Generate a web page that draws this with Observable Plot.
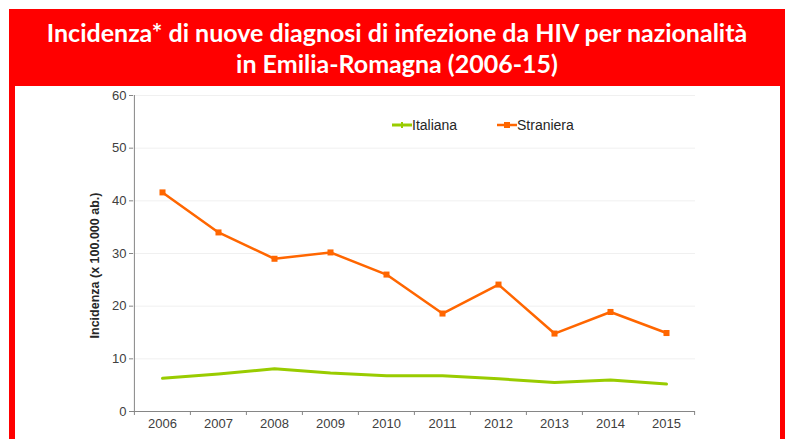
<!DOCTYPE html>
<html>
<head>
<meta charset="utf-8">
<script src="https://cdn.jsdelivr.net/npm/d3@7"></script>
<script src="https://cdn.jsdelivr.net/npm/@observablehq/plot@0.6"></script>
<style>
  html, body { margin: 0; padding: 0; background: #fff; }
  #page { position: relative; width: 790px; height: 439px; overflow: hidden; background: #fff; }
  #frame { position: absolute; left: 9px; top: 9px; width: 776px; height: 430px; background: #ff0000; }
  #title { position: absolute; left: 0; top: 0; width: 776px; height: 77px; color: #fff;
           font-family: Lato, "Open Sans", sans-serif; font-weight: 700; text-align: center; }
  #title div { position: absolute; left: 0; width: 100%; white-space: nowrap; line-height: 1; }
  #inner { position: absolute; left: 6px; top: 77px; width: 765px; height: 353px; background: #fff; }
  #inner > svg { position: absolute; left: 0; top: 0; }
  #legend { position: absolute; top: 30px; left: 0; width: 100%; height: 20px;
            font-family: "Liberation Sans", Arial, sans-serif; font-size: 14px; color: #262626; }
  #legend .item { position: absolute; top: 0; display: flex; align-items: center; height: 18px; }
  #legend .item svg { position: static; display: block; }
</style>
</head>
<body>
<div id="page">
  <div id="frame">
    <div id="title">
      <div id="t1"></div>
      <div id="t2"></div>
    </div>
    <div id="inner">
      <div id="legend"></div>
    </div>
  </div>
</div>
<script>
const titleLines = ["Incidenza* di nuove diagnosi di infezione da HIV per nazionalità", "in Emilia-Romagna (2006-15)"];
const yTitle = "Incidenza (x 100.000 ab.)";
const seriesNames = ["Italiana", "Straniera"];
const years = ["2006", "2007", "2008", "2009", "2010", "2011", "2012", "2013", "2014", "2015"];
const italiana = [6.3, 7.1, 8.1, 7.3, 6.8, 6.8, 6.2, 5.5, 6.0, 5.2];
const straniera = [41.6, 34.0, 29.0, 30.2, 26.0, 18.6, 24.1, 14.8, 18.9, 14.9];
const yTicks = [0, 10, 20, 30, 40, 50, 60];

const colors = {Italiana: "#99cc00", Straniera: "#ff6600"};

const rowsIt = years.map((y, i) => ({year: y, value: italiana[i], series: "Italiana"}));
const rowsSt = years.map((y, i) => ({year: y, value: straniera[i], series: "Straniera"}));

// Title
const t1 = document.getElementById("t1"), t2 = document.getElementById("t2");
t1.textContent = titleLines[0];
t2.textContent = titleLines[1];
let fs = 25;
{
  const span = document.createElement("span");
  span.style.font = `700 ${fs}px Lato`;
  span.style.whiteSpace = "nowrap";
  span.textContent = titleLines[0];
  document.body.appendChild(span);
  const w = span.getBoundingClientRect().width;
  span.remove();
  fs = fs * 701 / w;
}
t1.style.fontSize = fs + "px";
t2.style.fontSize = fs + "px";
t1.style.top = (31 - fs * 0.8) + "px";
t2.style.top = (62.5 - fs * 0.8) + "px";

// Chart
const W = 765, H = 353, mL = 118, mR = 85, mT = 9, mB = 28;
const half = (W - mL - mR) / years.length / 2;
const axisColor = "#868686";
const textColor = "#404040";

const chart = Plot.plot({
  width: W, height: H,
  marginLeft: mL, marginRight: mR, marginTop: mT, marginBottom: mB,
  style: {fontFamily: "'Liberation Sans', Arial, sans-serif", background: "transparent"},
  x: {type: "point", domain: years, padding: 0.5, align: 0.5},
  y: {domain: [0, 60]},
  marks: [
    Plot.gridY(yTicks.slice(1), {stroke: "#f0f0f0", strokeOpacity: 1}),
    Plot.ruleY([0], {stroke: axisColor}),
    Plot.ruleX([years[0]], {dx: -half, stroke: axisColor}),
    Plot.axisY(yTicks, {tickSize: 4, tickPadding: 3, fontSize: 13, fill: textColor, stroke: axisColor, label: null}),
    Plot.axisX(years, {tickSize: 0, tickPadding: 7, fontSize: 13, fill: textColor, label: null}),
    Plot.axisX(years, {tickSize: 4, tickFormat: () => "", dx: -half, stroke: axisColor, label: null}),
    Plot.axisX([years[years.length - 1]], {tickSize: 4, tickFormat: () => "", dx: half, stroke: axisColor, label: null}),
    Plot.text([yTitle], {frameAnchor: "left", textAnchor: "middle", rotate: -90, dx: -39, dy: 12, fontWeight: "bold", fontSize: 12.5, fill: "#262626"}),
    Plot.line(rowsIt, {x: "year", y: "value", stroke: colors.Italiana, strokeWidth: 3}),
    Plot.dot(rowsIt, {x: "year", y: "value", symbol: "plus", r: 3, fill: colors.Italiana}),
    Plot.line(rowsSt, {x: "year", y: "value", stroke: colors.Straniera, strokeWidth: 2.5}),
    Plot.dot(rowsSt, {x: "year", y: "value", symbol: "square", r: 3.4, fill: colors.Straniera})
  ]
});
document.getElementById("inner").insertBefore(chart, document.getElementById("legend"));

// Legend
const legend = document.getElementById("legend");
const legendX = {Italiana: 377, Straniera: 482};
for (const name of seriesNames) {
  const item = document.createElement("div");
  item.className = "item";
  item.style.left = legendX[name] + "px";
  const marker = name === "Italiana"
    ? `<path d="M0 9H20" stroke="${colors[name]}" stroke-width="3"/><path d="M10 6V12M7 9H13" stroke="${colors[name]}" stroke-width="2"/>`
    : `<path d="M0 9H20" stroke="${colors[name]}" stroke-width="2.5"/><rect x="7" y="6" width="6" height="6" fill="${colors[name]}"/>`;
  item.innerHTML = `<svg width="20" height="18">${marker}</svg><span>${name}</span>`;
  legend.appendChild(item);
}
</script>
</body>
</html>
